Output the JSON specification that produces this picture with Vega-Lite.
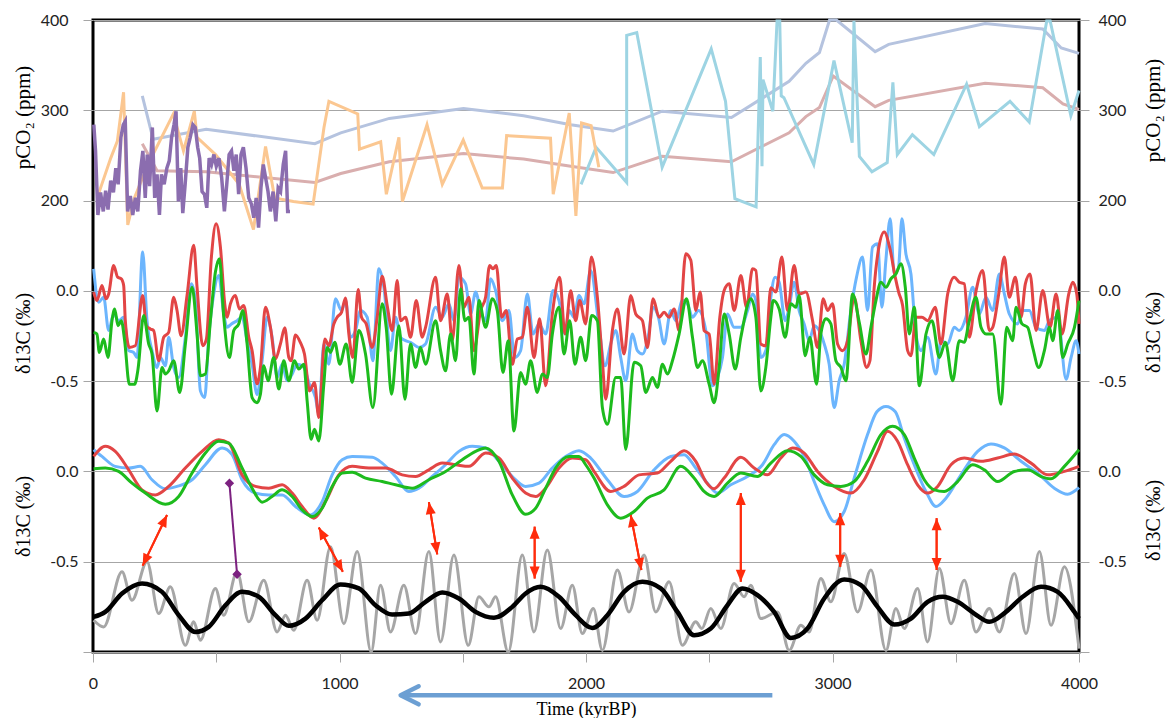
{
"$schema":"https://vega.github.io/schema/vega-lite/v6.json",
"width":986,"height":632,
"autosize":{"type":"none"},
"padding":{"left":93,"top":20,"right":88,"bottom":66},
"background":"white",
"config":{
"view":{"stroke":"#000000","strokeWidth":3},
"axis":{"domain":false,"grid":false,"tickColor":"#a6a6a6","tickSize":10,"tickWidth":1,"labelFont":"Lato","labelFontSize":16,"labelColor":"#222222","titleFont":"Liberation Serif","titleFontSize":20,"titleFontWeight":"normal","titleColor":"#000000","gridColor":"#a6a6a6","gridWidth":1}
},
"datasets":{
"co2":[
{"s":"pk","t":200,"v":263},{"s":"pk","t":260,"v":233},{"s":"pk","t":459,"v":232},{"s":"pk","t":900,"v":220},{"s":"pk","t":1005,"v":230},{"s":"pk","t":1202,"v":243},{"s":"pk","t":1503,"v":252},{"s":"pk","t":1747,"v":246},{"s":"pk","t":1938,"v":238},{"s":"pk","t":2110,"v":231},{"s":"pk","t":2309,"v":249},{"s":"pk","t":2590,"v":243},{"s":"pk","t":2824,"v":275},{"s":"pk","t":2892,"v":293},{"s":"pk","t":2947,"v":303},{"s":"pk","t":3003,"v":338},{"s":"pk","t":3173,"v":304},{"s":"pk","t":3228,"v":311},{"s":"pk","t":3619,"v":330},{"s":"pk","t":3853,"v":325},{"s":"pk","t":3935,"v":307},{"s":"pk","t":4000,"v":301},
{"s":"bg","t":200,"v":316},{"s":"bg","t":244,"v":268},{"s":"bg","t":459,"v":279},{"s":"bg","t":900,"v":263},{"s":"bg","t":1005,"v":275},{"s":"bg","t":1202,"v":291},{"s":"bg","t":1503,"v":302},{"s":"bg","t":1747,"v":294},{"s":"bg","t":1938,"v":284},{"s":"bg","t":2110,"v":277},{"s":"bg","t":2309,"v":299},{"s":"bg","t":2590,"v":292},{"s":"bg","t":2824,"v":332},{"s":"bg","t":2892,"v":352},{"s":"bg","t":2947,"v":364},{"s":"bg","t":2988,"v":400},{"s":"bg","t":3016,"v":400},{"s":"bg","t":3173,"v":365},{"s":"bg","t":3228,"v":373},{"s":"bg","t":3619,"v":396},{"s":"bg","t":3853,"v":390},{"s":"bg","t":3928,"v":369},{"s":"bg","t":4000,"v":363},
{"s":"cy","t":1980,"v":218},{"s":"cy","t":2041,"v":259},{"s":"cy","t":2165,"v":220},{"s":"cy","t":2165,"v":383},{"s":"cy","t":2206,"v":386},{"s":"cy","t":2309,"v":237},{"s":"cy","t":2508,"v":368},{"s":"cy","t":2566,"v":310},{"s":"cy","t":2604,"v":202},{"s":"cy","t":2690,"v":193},{"s":"cy","t":2707,"v":359},{"s":"cy","t":2714,"v":238},{"s":"cy","t":2718,"v":334},{"s":"cy","t":2758,"v":299},{"s":"cy","t":2775,"v":399},{"s":"cy","t":2786,"v":399},{"s":"cy","t":2792,"v":316},{"s":"cy","t":2803,"v":314},{"s":"cy","t":2924,"v":240},{"s":"cy","t":3006,"v":355},{"s":"cy","t":3080,"v":264},{"s":"cy","t":3087,"v":399},{"s":"cy","t":3109,"v":249},{"s":"cy","t":3160,"v":232},{"s":"cy","t":3222,"v":242},{"s":"cy","t":3245,"v":331},{"s":"cy","t":3263,"v":251},{"s":"cy","t":3324,"v":273},{"s":"cy","t":3411,"v":251},{"s":"cy","t":3544,"v":329},{"s":"cy","t":3596,"v":282},{"s":"cy","t":3720,"v":310},{"s":"cy","t":3798,"v":287},{"s":"cy","t":3869,"v":399},{"s":"cy","t":3883,"v":399},{"s":"cy","t":3967,"v":294},{"s":"cy","t":4000,"v":322},
{"s":"or","t":17,"v":203},{"s":"or","t":72,"v":247},{"s":"or","t":99,"v":266},{"s":"or","t":124,"v":320},{"s":"or","t":141,"v":173},{"s":"or","t":168,"v":203},{"s":"or","t":223,"v":240},{"s":"or","t":326,"v":296},{"s":"or","t":367,"v":255},{"s":"or","t":411,"v":299},{"s":"or","t":422,"v":270},{"s":"or","t":497,"v":251},{"s":"or","t":593,"v":218},{"s":"or","t":651,"v":168},{"s":"or","t":700,"v":260},{"s":"or","t":737,"v":203},{"s":"or","t":813,"v":199},{"s":"or","t":893,"v":196},{"s":"or","t":937,"v":281},{"s":"or","t":957,"v":310},{"s":"or","t":1074,"v":296},{"s":"or","t":1081,"v":257},{"s":"or","t":1167,"v":265},{"s":"or","t":1190,"v":207},{"s":"or","t":1241,"v":270},{"s":"or","t":1255,"v":199},{"s":"or","t":1355,"v":284},{"s":"or","t":1417,"v":218},{"s":"or","t":1502,"v":267},{"s":"or","t":1579,"v":214},{"s":"or","t":1661,"v":214},{"s":"or","t":1678,"v":272},{"s":"or","t":1856,"v":269},{"s":"or","t":1867,"v":207},{"s":"or","t":1932,"v":297},{"s":"or","t":1959,"v":183},{"s":"or","t":1982,"v":286},{"s":"or","t":2021,"v":283},{"s":"or","t":2052,"v":237},
{"s":"pu","t":3.3,"v":284},{"s":"pu","t":10.2,"v":255},{"s":"pu","t":19.8,"v":184},{"s":"pu","t":30.7,"v":209},{"s":"pu","t":41.7,"v":188},{"s":"pu","t":51.3,"v":211},{"s":"pu","t":60.9,"v":190},{"s":"pu","t":71.9,"v":222},{"s":"pu","t":82.9,"v":209},{"s":"pu","t":92.5,"v":236},{"s":"pu","t":102.1,"v":218},{"s":"pu","t":113.1,"v":270},{"s":"pu","t":122.7,"v":284},{"s":"pu","t":130.9,"v":288},{"s":"pu","t":140.5,"v":188},{"s":"pu","t":151.5,"v":205},{"s":"pu","t":161.1,"v":184},{"s":"pu","t":172.1,"v":203},{"s":"pu","t":181.7,"v":188},{"s":"pu","t":192.7,"v":233},{"s":"pu","t":202.3,"v":255},{"s":"pu","t":211.9,"v":203},{"s":"pu","t":220.1,"v":251},{"s":"pu","t":229.7,"v":216},{"s":"pu","t":240.7,"v":281},{"s":"pu","t":250.3,"v":203},{"s":"pu","t":259.9,"v":229},{"s":"pu","t":269.5,"v":184},{"s":"pu","t":277.8,"v":229},{"s":"pu","t":288.7,"v":218},{"s":"pu","t":299.7,"v":236},{"s":"pu","t":309.3,"v":244},{"s":"pu","t":318.9,"v":270},{"s":"pu","t":328.5,"v":284},{"s":"pu","t":336.8,"v":299},{"s":"pu","t":346.4,"v":199},{"s":"pu","t":356,"v":236},{"s":"pu","t":364.2,"v":186},{"s":"pu","t":373.8,"v":218},{"s":"pu","t":384.8,"v":259},{"s":"pu","t":394.4,"v":270},{"s":"pu","t":405.4,"v":284},{"s":"pu","t":415,"v":281},{"s":"pu","t":424.6,"v":259},{"s":"pu","t":432.8,"v":247},{"s":"pu","t":442.4,"v":210},{"s":"pu","t":452,"v":207},{"s":"pu","t":461.6,"v":192},{"s":"pu","t":471.2,"v":247},{"s":"pu","t":480.9,"v":240},{"s":"pu","t":490.5,"v":251},{"s":"pu","t":500.1,"v":238},{"s":"pu","t":511.1,"v":247},{"s":"pu","t":522.1,"v":225},{"s":"pu","t":533,"v":188},{"s":"pu","t":542.6,"v":218},{"s":"pu","t":552.2,"v":251},{"s":"pu","t":561.9,"v":255},{"s":"pu","t":571.5,"v":233},{"s":"pu","t":581.1,"v":251},{"s":"pu","t":590.8,"v":207},{"s":"pu","t":600.4,"v":251},{"s":"pu","t":610,"v":259},{"s":"pu","t":620.8,"v":236},{"s":"pu","t":631.8,"v":203},{"s":"pu","t":642.8,"v":196},{"s":"pu","t":652.4,"v":181},{"s":"pu","t":662,"v":203},{"s":"pu","t":671.6,"v":170},{"s":"pu","t":681.2,"v":214},{"s":"pu","t":690.8,"v":240},{"s":"pu","t":700.4,"v":225},{"s":"pu","t":710,"v":210},{"s":"pu","t":719.6,"v":188},{"s":"pu","t":730.6,"v":210},{"s":"pu","t":741.6,"v":177},{"s":"pu","t":751.2,"v":214},{"s":"pu","t":760.8,"v":210},{"s":"pu","t":771.8,"v":240},{"s":"pu","t":781.4,"v":255},{"s":"pu","t":789.7,"v":188},{"s":"pu","t":799.2,"v":188}
],
"up":[
{"s":"b","t":2.6,"v":0.122},{"s":"b","t":22.9,"v":-0.063},{"s":"b","t":43.2,"v":-0.035},{"s":"b","t":63.5,"v":-0.22},{"s":"b","t":83.8,"v":-0.128},{"s":"b","t":104.1,"v":-0.165},{"s":"b","t":124.4,"v":-0.146},{"s":"b","t":144.7,"v":-0.331},{"s":"b","t":165,"v":-0.341},{"s":"b","t":178.6,"v":-0.369},{"s":"b","t":201.5,"v":0.215},{"s":"b","t":219.1,"v":-0.165},{"s":"b","t":239.4,"v":-0.331},{"s":"b","t":259.7,"v":-0.424},{"s":"b","t":273.3,"v":-0.369},{"s":"b","t":293.6,"v":-0.415},{"s":"b","t":307.1,"v":-0.257},{"s":"b","t":327.4,"v":-0.424},{"s":"b","t":347.7,"v":-0.48},{"s":"b","t":374.8,"v":-0.257},{"s":"b","t":399.1,"v":0.039},{"s":"b","t":415.4,"v":-0.054},{"s":"b","t":435.7,"v":-0.554},{"s":"b","t":453.3,"v":-0.591},{"s":"b","t":469.5,"v":-0.257},{"s":"b","t":489.8,"v":-0.017},{"s":"b","t":510.1,"v":0.085},{"s":"b","t":530.4,"v":-0.128},{"s":"b","t":543.9,"v":-0.202},{"s":"b","t":561.5,"v":-0.183},{"s":"b","t":584.5,"v":-0.165},{"s":"b","t":604.8,"v":-0.146},{"s":"b","t":625.1,"v":-0.276},{"s":"b","t":645.4,"v":-0.407},{"s":"b","t":665.7,"v":-0.574},{"s":"b","t":686,"v":-0.387},{"s":"b","t":706.3,"v":-0.146},{"s":"b","t":726.6,"v":-0.257},{"s":"b","t":746.9,"v":-0.48},{"s":"b","t":767.2,"v":-0.407},{"s":"b","t":787.5,"v":-0.498},{"s":"b","t":807.8,"v":-0.461},{"s":"b","t":828.1,"v":-0.407},{"s":"b","t":855.2,"v":-0.424},{"s":"b","t":878.2,"v":-0.517},{"s":"b","t":902.6,"v":-0.591},{"s":"b","t":916.1,"v":-0.683},{"s":"b","t":936.4,"v":-0.294},{"s":"b","t":956.7,"v":-0.406},{"s":"b","t":983.8,"v":-0.044},{"s":"b","t":1008.1,"v":-0.109},{"s":"b","t":1024.3,"v":-0.054},{"s":"b","t":1044.6,"v":-0.257},{"s":"b","t":1064.9,"v":-0.22},{"s":"b","t":1085.2,"v":-0.109},{"s":"b","t":1112.3,"v":-0.146},{"s":"b","t":1135.3,"v":-0.387},{"s":"b","t":1159.7,"v":0.122},{"s":"b","t":1180,"v":0.02},{"s":"b","t":1207,"v":-0.331},{"s":"b","t":1227.3,"v":-0.146},{"s":"b","t":1247.6,"v":-0.257},{"s":"b","t":1268,"v":-0.276},{"s":"b","t":1288.2,"v":-0.285},{"s":"b","t":1322,"v":-0.313},{"s":"b","t":1349.1,"v":-0.294},
{"s":"b","t":1389.7,"v":-0.091},{"s":"b","t":1416.7,"v":-0.146},{"s":"b","t":1443.8,"v":-0.072},{"s":"b","t":1464.1,"v":-0.165},{"s":"b","t":1484.4,"v":0.076},{"s":"b","t":1511.5,"v":0.039},{"s":"b","t":1531.8,"v":-0.128},{"s":"b","t":1552.1,"v":-0.007},{"s":"b","t":1572.4,"v":-0.109},{"s":"b","t":1592.7,"v":-0.165},{"s":"b","t":1613,"v":0.067},{"s":"b","t":1633.3,"v":0.002},{"s":"b","t":1660.4,"v":-0.165},{"s":"b","t":1687.4,"v":-0.109},{"s":"b","t":1710.4,"v":-0.369},{"s":"b","t":1734.8,"v":-0.331},{"s":"b","t":1762,"v":-0.017},{"s":"b","t":1785,"v":-0.239},{"s":"b","t":1809.4,"v":-0.183},{"s":"b","t":1836.3,"v":-0.239},{"s":"b","t":1866.2,"v":0.002},{"s":"b","t":1890.5,"v":-0.054},{"s":"b","t":1914.8,"v":-0.239},{"s":"b","t":1931.1,"v":-0.109},{"s":"b","t":1951.4,"v":-0.146},{"s":"b","t":1971.7,"v":-0.026},{"s":"b","t":1992,"v":-0.072},{"s":"b","t":2019,"v":0.113},{"s":"b","t":2050.2,"v":-0.165},{"s":"b","t":2077.3,"v":-0.415},{"s":"b","t":2100.2,"v":-0.294},{"s":"b","t":2120.5,"v":-0.22},{"s":"b","t":2140.8,"v":-0.369},{"s":"b","t":2161.1,"v":-0.498},{"s":"b","t":2188.2,"v":-0.239},{"s":"b","t":2208.5,"v":-0.331},{"s":"b","t":2228.9,"v":-0.35},{"s":"b","t":2251.9,"v":-0.257},{"s":"b","t":2272.2,"v":-0.091},{"s":"b","t":2293.8,"v":-0.146},{"s":"b","t":2316.9,"v":-0.294},{"s":"b","t":2344,"v":-0.109},{"s":"b","t":2364.2,"v":-0.165},{"s":"b","t":2391.3,"v":-0.054},{"s":"b","t":2411.6,"v":-0.072},{"s":"b","t":2431.9,"v":-0.146},{"s":"b","t":2456.3,"v":-0.109},{"s":"b","t":2486,"v":-0.22},{"s":"b","t":2513.1,"v":-0.526},{"s":"b","t":2533.4,"v":-0.48},{"s":"b","t":2553.7,"v":-0.369},{"s":"b","t":2574,"v":-0.128},{"s":"b","t":2601.1,"v":-0.202},{"s":"b","t":2628.2,"v":-0.202},{"s":"b","t":2655.3,"v":-0.109},{"s":"b","t":2675.6,"v":-0.017},{"s":"b","t":2689.1,"v":-0.054},
{"s":"b","t":2709.2,"v":-0.369},{"s":"b","t":2729.5,"v":-0.331},{"s":"b","t":2749.8,"v":-0.035},{"s":"b","t":2767.4,"v":0.076},{"s":"b","t":2783.7,"v":0.048},{"s":"b","t":2808,"v":-0.165},{"s":"b","t":2824.3,"v":-0.091},{"s":"b","t":2844.4,"v":0.048},{"s":"b","t":2864.7,"v":-0.109},{"s":"b","t":2885,"v":-0.183},{"s":"b","t":2905.4,"v":-0.276},{"s":"b","t":2925.7,"v":-0.193},{"s":"b","t":2946,"v":-0.22},{"s":"b","t":2966.3,"v":-0.294},{"s":"b","t":2986.6,"v":-0.406},{"s":"b","t":3006.9,"v":-0.646},{"s":"b","t":3027.2,"v":-0.498},{"s":"b","t":3047.5,"v":-0.406},{"s":"b","t":3074.5,"v":-0.109},{"s":"b","t":3097.5,"v":0.076},{"s":"b","t":3121.8,"v":0.187},{"s":"b","t":3142.2,"v":-0.109},{"s":"b","t":3162.5,"v":0.243},{"s":"b","t":3182.8,"v":0.261},{"s":"b","t":3200.3,"v":-0.091},{"s":"b","t":3216.5,"v":0.169},{"s":"b","t":3234.1,"v":0.4},{"s":"b","t":3250.4,"v":0.094},{"s":"b","t":3268,"v":0.131},{"s":"b","t":3281.5,"v":0.4},{"s":"b","t":3297.7,"v":0.206},{"s":"b","t":3318.2,"v":0.094},{"s":"b","t":3338.5,"v":-0.239},{"s":"b","t":3358.8,"v":-0.331},{"s":"b","t":3386,"v":-0.257},{"s":"b","t":3419.6,"v":-0.461},{"s":"b","t":3440,"v":-0.276},{"s":"b","t":3467.2,"v":-0.294},{"s":"b","t":3494.1,"v":-0.202},{"s":"b","t":3514.4,"v":-0.22},{"s":"b","t":3541.4,"v":-0.146},{"s":"b","t":3568.5,"v":0.02},{"s":"b","t":3595.6,"v":-0.128},{"s":"b","t":3622.7,"v":-0.035},{"s":"b","t":3649.7,"v":-0.109},{"s":"b","t":3676.8,"v":0.094},{"s":"b","t":3697.2,"v":-0.017},{"s":"b","t":3717.3,"v":-0.128},{"s":"b","t":3751.3,"v":-0.183},{"s":"b","t":3771.6,"v":-0.109},{"s":"b","t":3798.7,"v":-0.109},{"s":"b","t":3825.7,"v":-0.202},{"s":"b","t":3859.6,"v":-0.22},{"s":"b","t":3879.9,"v":-0.165},{"s":"b","t":3913.8,"v":-0.146},{"s":"b","t":3947.6,"v":-0.489},{"s":"b","t":3968,"v":-0.369},{"s":"b","t":3988.3,"v":-0.276},{"s":"b","t":4000,"v":-0.35},
{"s":"r","t":2.6,"v":-0.007},{"s":"r","t":16.1,"v":-0.054},{"s":"r","t":36.4,"v":0.03},{"s":"r","t":52.6,"v":-0.044},{"s":"r","t":63.5,"v":-0.017},{"s":"r","t":83.8,"v":0.141},{"s":"r","t":100,"v":0.076},{"s":"r","t":114.9,"v":0.067},{"s":"r","t":124.4,"v":0.03},{"s":"r","t":131.1,"v":-0.165},{"s":"r","t":147.4,"v":-0.313},{"s":"r","t":171.7,"v":-0.304},{"s":"r","t":201.5,"v":-0.026},{"s":"r","t":216.4,"v":-0.193},{"s":"r","t":232.6,"v":-0.211},{"s":"r","t":246.2,"v":-0.22},{"s":"r","t":266.5,"v":-0.387},{"s":"r","t":286.8,"v":-0.257},{"s":"r","t":307.1,"v":-0.23},{"s":"r","t":327.4,"v":-0.035},{"s":"r","t":340.9,"v":-0.109},{"s":"r","t":357.2,"v":-0.248},{"s":"r","t":381.5,"v":-0.026},{"s":"r","t":408.6,"v":0.252},{"s":"r","t":422.1,"v":0.02},{"s":"r","t":445.1,"v":-0.304},{"s":"r","t":460,"v":-0.267},{"s":"r","t":480.3,"v":0.187},{"s":"r","t":499.3,"v":0.372},{"s":"r","t":516.8,"v":0.243},{"s":"r","t":534.4,"v":-0.072},{"s":"r","t":543.9,"v":-0.146},{"s":"r","t":557.4,"v":-0.072},{"s":"r","t":577.7,"v":-0.026},{"s":"r","t":594,"v":-0.1},{"s":"r","t":611.6,"v":-0.081},{"s":"r","t":631.9,"v":-0.257},{"s":"r","t":645.4,"v":-0.331},{"s":"r","t":665.7,"v":-0.515},{"s":"r","t":679.2,"v":-0.424},{"s":"r","t":699.5,"v":-0.091},{"s":"r","t":719.8,"v":-0.202},{"s":"r","t":740.1,"v":-0.378},{"s":"r","t":760.4,"v":-0.294},{"s":"r","t":778,"v":-0.205},{"s":"r","t":794.3,"v":-0.369},{"s":"r","t":803.7,"v":-0.387},{"s":"r","t":821.3,"v":-0.244},{"s":"r","t":841.6,"v":-0.287},{"s":"r","t":857.9,"v":-0.35},{"s":"r","t":878.2,"v":-0.554},{"s":"r","t":898.5,"v":-0.507},{"s":"r","t":916.1,"v":-0.702},{"s":"r","t":940.4,"v":-0.267},{"s":"r","t":956.7,"v":-0.304},{"s":"r","t":977,"v":-0.183},{"s":"r","t":990.5,"v":-0.146},{"s":"r","t":1008.1,"v":-0.119},{"s":"r","t":1024.3,"v":-0.039},{"s":"r","t":1037.9,"v":-0.239},{"s":"r","t":1054.1,"v":-0.369},{"s":"r","t":1075.8,"v":0.007},{"s":"r","t":1089.3,"v":-0.146},{"s":"r","t":1108.3,"v":-0.183},{"s":"r","t":1132.6,"v":-0.313},{"s":"r","t":1152.9,"v":-0.146},{"s":"r","t":1173.2,"v":0.081},{"s":"r","t":1193.5,"v":-0.081},{"s":"r","t":1213.8,"v":-0.22},{"s":"r","t":1234.1,"v":0.057},{"s":"r","t":1247.6,"v":-0.165},{"s":"r","t":1268,"v":-0.146},{"s":"r","t":1288.2,"v":-0.257},{"s":"r","t":1311.3,"v":-0.054},{"s":"r","t":1335.6,"v":-0.257},{"s":"r","t":1349.1,"v":-0.202},
{"s":"r","t":1389.7,"v":0.076},{"s":"r","t":1410,"v":-0.165},{"s":"r","t":1437.3,"v":-0.017},{"s":"r","t":1457.5,"v":-0.276},{"s":"r","t":1484.4,"v":0.141},{"s":"r","t":1504.7,"v":-0.091},{"s":"r","t":1525,"v":-0.035},{"s":"r","t":1545.3,"v":-0.331},{"s":"r","t":1572.4,"v":-0.109},{"s":"r","t":1592.7,"v":-0.035},{"s":"r","t":1609,"v":0.141},{"s":"r","t":1622.5,"v":0.122},{"s":"r","t":1636,"v":0.141},{"s":"r","t":1657.7,"v":-0.146},{"s":"r","t":1676.6,"v":-0.109},{"s":"r","t":1701,"v":-0.407},{"s":"r","t":1721.4,"v":-0.267},{"s":"r","t":1741.7,"v":-0.257},{"s":"r","t":1762,"v":-0.091},{"s":"r","t":1789,"v":-0.369},{"s":"r","t":1812,"v":-0.155},{"s":"r","t":1836.3,"v":-0.526},{"s":"r","t":1863.5,"v":-0.128},{"s":"r","t":1893.2,"v":0.076},{"s":"r","t":1914.8,"v":-0.239},{"s":"r","t":1937.8,"v":0},{"s":"r","t":1958.1,"v":-0.165},{"s":"r","t":1974.4,"v":-0.054},{"s":"r","t":1998.7,"v":-0.183},{"s":"r","t":2021.7,"v":0.187},{"s":"r","t":2046.1,"v":-0.035},{"s":"r","t":2066.4,"v":-0.387},{"s":"r","t":2080,"v":-0.6},{"s":"r","t":2107,"v":-0.22},{"s":"r","t":2127.3,"v":-0.1},{"s":"r","t":2154.4,"v":-0.35},{"s":"r","t":2181.5,"v":-0.026},{"s":"r","t":2201.8,"v":-0.128},{"s":"r","t":2228.9,"v":-0.165},{"s":"r","t":2249.2,"v":-0.313},{"s":"r","t":2272.2,"v":-0.044},{"s":"r","t":2296.6,"v":-0.146},{"s":"r","t":2316.9,"v":-0.119},{"s":"r","t":2337.2,"v":-0.146},{"s":"r","t":2357.5,"v":-0.1},{"s":"r","t":2377.8,"v":-0.22},{"s":"r","t":2404.9,"v":0.206},{"s":"r","t":2425.2,"v":0.169},{"s":"r","t":2445.5,"v":-0.109},{"s":"r","t":2463.1,"v":-0.007},{"s":"r","t":2479.3,"v":-0.22},{"s":"r","t":2499.6,"v":-0.239},{"s":"r","t":2519.9,"v":-0.517},{"s":"r","t":2542.9,"v":-0.146},{"s":"r","t":2560.5,"v":0.002},{"s":"r","t":2580.8,"v":0.039},{"s":"r","t":2601.1,"v":-0.109},{"s":"r","t":2628.2,"v":0.085},{"s":"r","t":2651.2,"v":-0.091},{"s":"r","t":2675.6,"v":0.122},{"s":"r","t":2689.1,"v":0.113},
{"s":"r","t":2709.2,"v":-0.294},{"s":"r","t":2729.5,"v":-0.304},{"s":"r","t":2749.8,"v":0.017},{"s":"r","t":2770.1,"v":-0.007},{"s":"r","t":2794.5,"v":0.187},{"s":"r","t":2817.4,"v":-0.109},{"s":"r","t":2844.4,"v":0.141},{"s":"r","t":2864.7,"v":-0.017},{"s":"r","t":2891.9,"v":-0.007},{"s":"r","t":2919.1,"v":-0.165},{"s":"r","t":2939.4,"v":-0.313},{"s":"r","t":2962.2,"v":-0.044},{"s":"r","t":2980,"v":-0.109},{"s":"r","t":3000.3,"v":-0.072},{"s":"r","t":3020.6,"v":-0.294},{"s":"r","t":3040.9,"v":-0.331},{"s":"r","t":3061.2,"v":-0.276},{"s":"r","t":3088.1,"v":-0.035},{"s":"r","t":3115.2,"v":-0.276},{"s":"r","t":3138.4,"v":-0.424},{"s":"r","t":3151.8,"v":-0.387},{"s":"r","t":3169.2,"v":0.02},{"s":"r","t":3187.1,"v":0.234},{"s":"r","t":3209.8,"v":0.326},{"s":"r","t":3233,"v":0.234},{"s":"r","t":3254.5,"v":0.076},{"s":"r","t":3268.3,"v":-0.007},{"s":"r","t":3284.5,"v":-0.081},{"s":"r","t":3304.8,"v":-0.331},{"s":"r","t":3318.2,"v":-0.359},{"s":"r","t":3338.5,"v":-0.146},{"s":"r","t":3362.9,"v":-0.146},{"s":"r","t":3386,"v":-0.165},{"s":"r","t":3416.9,"v":-0.091},{"s":"r","t":3440,"v":-0.294},{"s":"r","t":3467.2,"v":-0.017},{"s":"r","t":3494.1,"v":0.076},{"s":"r","t":3514.4,"v":0.048},{"s":"r","t":3534.6,"v":0.039},{"s":"r","t":3554.9,"v":-0.257},{"s":"r","t":3582.1,"v":-0.002},{"s":"r","t":3609.3,"v":0.113},{"s":"r","t":3636.1,"v":-0.22},{"s":"r","t":3650,"v":-0.202},{"s":"r","t":3674.3,"v":-0.017},{"s":"r","t":3697.2,"v":0.187},{"s":"r","t":3717.3,"v":-0.035},{"s":"r","t":3741.7,"v":0.076},{"s":"r","t":3764.8,"v":-0.146},{"s":"r","t":3782.3,"v":0.039},{"s":"r","t":3801.4,"v":0.094},{"s":"r","t":3825.7,"v":-0.22},{"s":"r","t":3852.9,"v":0.002},{"s":"r","t":3882.6,"v":-0.202},{"s":"r","t":3906.9,"v":-0.017},{"s":"r","t":3931.3,"v":-0.239},{"s":"r","t":3958.5,"v":-0.017},{"s":"r","t":3974.7,"v":0.048},{"s":"r","t":3990.9,"v":-0.017},{"s":"r","t":4000,"v":-0.183},
{"s":"g","t":2.6,"v":-0.23},{"s":"g","t":16.1,"v":-0.239},{"s":"g","t":25.6,"v":-0.341},{"s":"g","t":43.2,"v":-0.267},{"s":"g","t":60.8,"v":-0.369},{"s":"g","t":77,"v":-0.165},{"s":"g","t":87.9,"v":-0.1},{"s":"g","t":101.4,"v":-0.193},{"s":"g","t":114.9,"v":-0.165},{"s":"g","t":128.4,"v":-0.276},{"s":"g","t":147.4,"v":-0.517},{"s":"g","t":169,"v":-0.517},{"s":"g","t":182.7,"v":-0.433},{"s":"g","t":205.6,"v":-0.137},{"s":"g","t":225.9,"v":-0.294},{"s":"g","t":239.4,"v":-0.35},{"s":"g","t":259.7,"v":-0.665},{"s":"g","t":280,"v":-0.424},{"s":"g","t":293.6,"v":-0.461},{"s":"g","t":307.1,"v":-0.443},{"s":"g","t":327.4,"v":-0.387},{"s":"g","t":351.8,"v":-0.563},{"s":"g","t":374.8,"v":-0.294},{"s":"g","t":401.9,"v":0.02},{"s":"g","t":422.1,"v":-0.239},{"s":"g","t":435.7,"v":-0.47},{"s":"g","t":456,"v":-0.461},{"s":"g","t":476.3,"v":-0.165},{"s":"g","t":496.6,"v":0.104},{"s":"g","t":512.8,"v":0.178},{"s":"g","t":530.4,"v":-0.146},{"s":"g","t":553.4,"v":-0.369},{"s":"g","t":571,"v":-0.22},{"s":"g","t":591.3,"v":-0.183},{"s":"g","t":607.5,"v":-0.109},{"s":"g","t":625.1,"v":-0.294},{"s":"g","t":645.4,"v":-0.591},{"s":"g","t":665.7,"v":-0.619},{"s":"g","t":679.2,"v":-0.572},{"s":"g","t":692.7,"v":-0.415},{"s":"g","t":710.3,"v":-0.498},{"s":"g","t":733.3,"v":-0.369},{"s":"g","t":753.6,"v":-0.544},{"s":"g","t":773.9,"v":-0.387},{"s":"g","t":794.3,"v":-0.498},{"s":"g","t":817.3,"v":-0.387},{"s":"g","t":834.9,"v":-0.433},{"s":"g","t":855.2,"v":-0.406},{"s":"g","t":868.7,"v":-0.609},{"s":"g","t":884.9,"v":-0.822},{"s":"g","t":898.5,"v":-0.767},{"s":"g","t":916.1,"v":-0.831},{"s":"g","t":936.4,"v":-0.517},{"s":"g","t":949.9,"v":-0.313},{"s":"g","t":963.4,"v":-0.341},{"s":"g","t":981,"v":-0.285},{"s":"g","t":1001.3,"v":-0.406},{"s":"g","t":1027,"v":-0.294},{"s":"g","t":1051.4,"v":-0.507},{"s":"g","t":1078.5,"v":-0.22},{"s":"g","t":1105.5,"v":-0.35},{"s":"g","t":1135.3,"v":-0.646},{"s":"g","t":1173.2,"v":-0.072},{"s":"g","t":1189.4,"v":-0.202},{"s":"g","t":1211.1,"v":-0.572},{"s":"g","t":1240.9,"v":-0.193},{"s":"g","t":1265.3,"v":-0.6},{"s":"g","t":1288.2,"v":-0.294},{"s":"g","t":1308.5,"v":-0.424},{"s":"g","t":1328.8,"v":-0.313},{"s":"g","t":1349.1,"v":-0.406},
{"s":"g","t":1389.7,"v":-0.165},{"s":"g","t":1410,"v":-0.331},{"s":"g","t":1430.3,"v":-0.443},{"s":"g","t":1450.6,"v":-0.239},{"s":"g","t":1470.9,"v":-0.387},{"s":"g","t":1491.2,"v":0.011},{"s":"g","t":1508.8,"v":-0.165},{"s":"g","t":1525,"v":-0.146},{"s":"g","t":1545.3,"v":-0.461},{"s":"g","t":1565.6,"v":-0.054},{"s":"g","t":1592.7,"v":-0.202},{"s":"g","t":1619.8,"v":-0.044},{"s":"g","t":1640,"v":-0.109},{"s":"g","t":1663,"v":-0.452},{"s":"g","t":1684.7,"v":-0.276},{"s":"g","t":1707.7,"v":-0.776},{"s":"g","t":1734.8,"v":-0.452},{"s":"g","t":1755,"v":-0.517},{"s":"g","t":1775.3,"v":-0.387},{"s":"g","t":1802.4,"v":-0.563},{"s":"g","t":1822.7,"v":-0.461},{"s":"g","t":1843,"v":-0.48},{"s":"g","t":1863.5,"v":-0.239},{"s":"g","t":1890.5,"v":-0.091},{"s":"g","t":1910.8,"v":-0.35},{"s":"g","t":1933.7,"v":-0.165},{"s":"g","t":1955.4,"v":-0.406},{"s":"g","t":1978.3,"v":-0.257},{"s":"g","t":1998.7,"v":-0.387},{"s":"g","t":2023,"v":-0.137},{"s":"g","t":2046.1,"v":-0.165},{"s":"g","t":2066.4,"v":-0.646},{"s":"g","t":2086.7,"v":-0.739},{"s":"g","t":2120.5,"v":-0.48},{"s":"g","t":2140.8,"v":-0.48},{"s":"g","t":2161.1,"v":-0.878},{"s":"g","t":2195,"v":-0.396},{"s":"g","t":2222.1,"v":-0.415},{"s":"g","t":2242.4,"v":-0.563},{"s":"g","t":2269.5,"v":-0.48},{"s":"g","t":2289.8,"v":-0.535},{"s":"g","t":2310.1,"v":-0.406},{"s":"g","t":2330.4,"v":-0.461},{"s":"g","t":2350.7,"v":-0.387},{"s":"g","t":2377.8,"v":-0.239},{"s":"g","t":2407.6,"v":-0.044},{"s":"g","t":2431.9,"v":-0.257},{"s":"g","t":2452.2,"v":-0.424},{"s":"g","t":2472.5,"v":-0.387},{"s":"g","t":2499.6,"v":-0.517},{"s":"g","t":2519.9,"v":-0.619},{"s":"g","t":2540.2,"v":-0.424},{"s":"g","t":2560.5,"v":-0.128},{"s":"g","t":2580.8,"v":-0.239},{"s":"g","t":2605.2,"v":-0.433},{"s":"g","t":2628.2,"v":-0.257},{"s":"g","t":2668.8,"v":-0.044},{"s":"g","t":2689.1,"v":-0.146},
{"s":"g","t":2709.2,"v":-0.554},{"s":"g","t":2729.5,"v":-0.424},{"s":"g","t":2749.8,"v":-0.146},{"s":"g","t":2759.3,"v":-0.054},{"s":"g","t":2783.7,"v":-0.1},{"s":"g","t":2808,"v":-0.257},{"s":"g","t":2831.1,"v":-0.072},{"s":"g","t":2851.4,"v":-0.091},{"s":"g","t":2864.7,"v":-0.026},{"s":"g","t":2889.2,"v":-0.359},{"s":"g","t":2908.2,"v":-0.257},{"s":"g","t":2935.3,"v":-0.517},{"s":"g","t":2952.8,"v":-0.239},{"s":"g","t":2973.1,"v":-0.155},{"s":"g","t":2993.5,"v":-0.183},{"s":"g","t":3013.8,"v":-0.387},{"s":"g","t":3034.1,"v":-0.424},{"s":"g","t":3054.4,"v":-0.498},{"s":"g","t":3081.5,"v":-0.017},{"s":"g","t":3108.5,"v":-0.174},{"s":"g","t":3135.6,"v":-0.35},{"s":"g","t":3155.9,"v":-0.202},{"s":"g","t":3176.2,"v":-0.054},{"s":"g","t":3196.5,"v":0.048},{"s":"g","t":3216.8,"v":0.02},{"s":"g","t":3237.1,"v":0.067},{"s":"g","t":3257.4,"v":0.094},{"s":"g","t":3277.7,"v":0.15},{"s":"g","t":3295.3,"v":0.02},{"s":"g","t":3311.6,"v":-0.239},{"s":"g","t":3331.9,"v":-0.091},{"s":"g","t":3352.2,"v":-0.526},{"s":"g","t":3379.3,"v":-0.239},{"s":"g","t":3403.6,"v":-0.165},{"s":"g","t":3433.4,"v":-0.369},{"s":"g","t":3457.8,"v":-0.285},{"s":"g","t":3487.6,"v":-0.498},{"s":"g","t":3514.4,"v":-0.276},{"s":"g","t":3534.6,"v":-0.285},{"s":"g","t":3552.3,"v":-0.183},{"s":"g","t":3582.1,"v":-0.035},{"s":"g","t":3602.4,"v":-0.202},{"s":"g","t":3622.7,"v":-0.239},{"s":"g","t":3649.7,"v":-0.239},{"s":"g","t":3683.6,"v":-0.628},{"s":"g","t":3706.6,"v":-0.202},{"s":"g","t":3730.9,"v":-0.276},{"s":"g","t":3744.5,"v":-0.091},{"s":"g","t":3768.8,"v":-0.183},{"s":"g","t":3791.8,"v":-0.202},{"s":"g","t":3812.1,"v":-0.313},{"s":"g","t":3836.5,"v":-0.424},{"s":"g","t":3859.6,"v":-0.331},{"s":"g","t":3879.9,"v":-0.202},{"s":"g","t":3893.4,"v":-0.276},{"s":"g","t":3913.8,"v":-0.109},{"s":"g","t":3934,"v":-0.369},{"s":"g","t":3954.3,"v":-0.294},{"s":"g","t":3981.5,"v":-0.202},{"s":"g","t":4000,"v":-0.054}
],
"low":[
{"s":"b","t":2.6,"v":0.12},{"s":"b","t":36.4,"v":0.083},{"s":"b","t":90.5,"v":0.028},{"s":"b","t":144.7,"v":0.019},{"s":"b","t":192,"v":0.028},{"s":"b","t":239.4,"v":-0.046},{"s":"b","t":293.5,"v":-0.096},{"s":"b","t":340.9,"v":-0.083},{"s":"b","t":401.8,"v":-0.046},{"s":"b","t":455.9,"v":0.037},{"s":"b","t":523.6,"v":0.13},{"s":"b","t":564.2,"v":0.093},{"s":"b","t":604.8,"v":-0.046},{"s":"b","t":658.9,"v":-0.12},{"s":"b","t":713.1,"v":-0.13},{"s":"b","t":767.2,"v":-0.13},{"s":"b","t":821.3,"v":-0.194},{"s":"b","t":882.2,"v":-0.241},{"s":"b","t":929.6,"v":-0.167},{"s":"b","t":970.2,"v":-0.019},{"s":"b","t":1010.8,"v":0.065},{"s":"b","t":1051.4,"v":0.083},{"s":"b","t":1132.6,"v":0.078},{"s":"b","t":1173.2,"v":0.046},{"s":"b","t":1227.3,"v":-0.028},{"s":"b","t":1281.4,"v":-0.111},{"s":"b","t":1322,"v":-0.093},{"s":"b","t":1376.2,"v":-0.028},{"s":"b","t":1430.3,"v":0.037},{"s":"b","t":1484.4,"v":0.111},{"s":"b","t":1538.6,"v":0.139},{"s":"b","t":1592.7,"v":0.13},{"s":"b","t":1646.8,"v":0.056},{"s":"b","t":1701,"v":-0.028},{"s":"b","t":1755.1,"v":-0.083},{"s":"b","t":1809.2,"v":-0.065},{"s":"b","t":1863.4,"v":0.019},{"s":"b","t":1917.5,"v":0.083},{"s":"b","t":1971.6,"v":0.115},{"s":"b","t":2019,"v":0.074},{"s":"b","t":2086.7,"v":-0.046},{"s":"b","t":2154.3,"v":-0.139},{"s":"b","t":2208.5,"v":-0.111},{"s":"b","t":2276.1,"v":0.009},{"s":"b","t":2343.8,"v":0.083},{"s":"b","t":2397.9,"v":0.093},{"s":"b","t":2445.3,"v":0.019},{"s":"b","t":2492.7,"v":-0.065},{"s":"b","t":2533.3,"v":-0.12},{"s":"b","t":2587.4,"v":-0.074},{"s":"b","t":2655.1,"v":-0.028},{"s":"b","t":2716,"v":0.037},{"s":"b","t":2763.3,"v":0.148},{"s":"b","t":2803.9,"v":0.204},{"s":"b","t":2844.5,"v":0.167},{"s":"b","t":2885.1,"v":0.083},{"s":"b","t":2925.7,"v":-0.056},{"s":"b","t":2966.3,"v":-0.185},{"s":"b","t":3006.9,"v":-0.278},{"s":"b","t":3047.5,"v":-0.222},{"s":"b","t":3088,"v":-0.037},{"s":"b","t":3142.2,"v":0.204},{"s":"b","t":3180,"v":0.33},{"s":"b","t":3217,"v":0.36},{"s":"b","t":3255,"v":0.33},{"s":"b","t":3291.1,"v":0.185},{"s":"b","t":3331.7,"v":0.037},{"s":"b","t":3379,"v":-0.111},{"s":"b","t":3419.7,"v":-0.194},{"s":"b","t":3460.3,"v":-0.148},{"s":"b","t":3521.2,"v":-0.019},{"s":"b","t":3588.8,"v":0.111},{"s":"b","t":3643,"v":0.152},{"s":"b","t":3697.1,"v":0.13},{"s":"b","t":3764.8,"v":0.056},{"s":"b","t":3832.4,"v":-0.009},{"s":"b","t":3900.1,"v":-0.093},{"s":"b","t":3954.2,"v":-0.126},{"s":"b","t":4000,"v":-0.09},
{"s":"r","t":2.6,"v":0.083},{"s":"r","t":49.9,"v":0.139},{"s":"r","t":90.5,"v":0.111},{"s":"r","t":144.7,"v":0.009},{"s":"r","t":198.8,"v":-0.102},{"s":"r","t":252.9,"v":-0.13},{"s":"r","t":307.1,"v":-0.083},{"s":"r","t":374.7,"v":0.019},{"s":"r","t":442.4,"v":0.111},{"s":"r","t":510.1,"v":0.176},{"s":"r","t":550.7,"v":0.157},{"s":"r","t":604.8,"v":-0.019},{"s":"r","t":658.9,"v":-0.083},{"s":"r","t":713.1,"v":-0.093},{"s":"r","t":767.2,"v":-0.074},{"s":"r","t":807.8,"v":-0.12},{"s":"r","t":848.4,"v":-0.194},{"s":"r","t":895.8,"v":-0.259},{"s":"r","t":943.1,"v":-0.167},{"s":"r","t":997.3,"v":-0.019},{"s":"r","t":1051.4,"v":0.028},{"s":"r","t":1119.1,"v":0.019},{"s":"r","t":1186.7,"v":0.019},{"s":"r","t":1254.4,"v":-0.019},{"s":"r","t":1308.5,"v":-0.028},{"s":"r","t":1362.6,"v":0.009},{"s":"r","t":1416.8,"v":0.046},{"s":"r","t":1470.9,"v":0.037},{"s":"r","t":1525,"v":0.028},{"s":"r","t":1592.7,"v":0.102},{"s":"r","t":1646.8,"v":0.074},{"s":"r","t":1701,"v":-0.037},{"s":"r","t":1755.1,"v":-0.12},{"s":"r","t":1795.7,"v":-0.139},{"s":"r","t":1836.3,"v":-0.093},{"s":"r","t":1890.4,"v":0.019},{"s":"r","t":1944.5,"v":0.074},{"s":"r","t":1998.7,"v":0.065},{"s":"r","t":2032.5,"v":0},{"s":"r","t":2100.2,"v":-0.111},{"s":"r","t":2154.3,"v":-0.083},{"s":"r","t":2215.2,"v":-0.019},{"s":"r","t":2289.7,"v":-0.009},{"s":"r","t":2343.8,"v":0.056},{"s":"r","t":2397.9,"v":0.115},{"s":"r","t":2445.3,"v":0.056},{"s":"r","t":2485.9,"v":-0.056},{"s":"r","t":2519.7,"v":-0.096},{"s":"r","t":2560.3,"v":-0.037},{"s":"r","t":2628,"v":0.078},{"s":"r","t":2682.1,"v":0.019},{"s":"r","t":2736.2,"v":-0.019},{"s":"r","t":2790.4,"v":0.074},{"s":"r","t":2837.8,"v":0.13},{"s":"r","t":2885.1,"v":0.102},{"s":"r","t":2939.3,"v":0},{"s":"r","t":3007,"v":-0.083},{"s":"r","t":3074.6,"v":-0.12},{"s":"r","t":3128.7,"v":-0.046},{"s":"r","t":3182.8,"v":0.111},{"s":"r","t":3223.4,"v":0.222},{"s":"r","t":3264,"v":0.167},{"s":"r","t":3304.6,"v":0.037},{"s":"r","t":3345.2,"v":-0.074},{"s":"r","t":3386,"v":-0.12},{"s":"r","t":3426.4,"v":-0.083},{"s":"r","t":3480.6,"v":0.037},{"s":"r","t":3534.7,"v":0.074},{"s":"r","t":3602.4,"v":0.056},{"s":"r","t":3670,"v":0.074},{"s":"r","t":3737.7,"v":0.096},{"s":"r","t":3805.4,"v":0.046},{"s":"r","t":3873,"v":-0.019},{"s":"r","t":3940.7,"v":0},{"s":"r","t":4000,"v":0.028},
{"s":"g","t":2.6,"v":0.015},{"s":"g","t":49.9,"v":0.019},{"s":"g","t":104.1,"v":0},{"s":"g","t":158.2,"v":-0.065},{"s":"g","t":212.3,"v":-0.12},{"s":"g","t":293.5,"v":-0.182},{"s":"g","t":347.7,"v":-0.139},{"s":"g","t":401.8,"v":-0.009},{"s":"g","t":455.9,"v":0.102},{"s":"g","t":510.1,"v":0.167},{"s":"g","t":550.7,"v":0.157},{"s":"g","t":604.8,"v":0.019},{"s":"g","t":645.4,"v":-0.093},{"s":"g","t":686,"v":-0.17},{"s":"g","t":726.6,"v":-0.139},{"s":"g","t":767.2,"v":-0.102},{"s":"g","t":807.8,"v":-0.139},{"s":"g","t":848.4,"v":-0.213},{"s":"g","t":889,"v":-0.25},{"s":"g","t":929.6,"v":-0.204},{"s":"g","t":970.2,"v":-0.083},{"s":"g","t":1010.8,"v":-0.009},{"s":"g","t":1051.4,"v":-0.004},{"s":"g","t":1105.5,"v":-0.037},{"s":"g","t":1173.2,"v":-0.056},{"s":"g","t":1227.3,"v":-0.074},{"s":"g","t":1294.9,"v":-0.093},{"s":"g","t":1362.6,"v":-0.046},{"s":"g","t":1430.3,"v":0},{"s":"g","t":1498,"v":0.065},{"s":"g","t":1552.1,"v":0.111},{"s":"g","t":1592.7,"v":0.13},{"s":"g","t":1646.8,"v":0.056},{"s":"g","t":1701,"v":-0.13},{"s":"g","t":1755.1,"v":-0.237},{"s":"g","t":1795.7,"v":-0.204},{"s":"g","t":1836.3,"v":-0.093},{"s":"g","t":1876.9,"v":0.019},{"s":"g","t":1931,"v":0.083},{"s":"g","t":1971.6,"v":0.083},{"s":"g","t":1998.7,"v":0.037},{"s":"g","t":2032.5,"v":-0.037},{"s":"g","t":2086.7,"v":-0.185},{"s":"g","t":2140.8,"v":-0.259},{"s":"g","t":2194.9,"v":-0.222},{"s":"g","t":2249,"v":-0.148},{"s":"g","t":2316.7,"v":-0.102},{"s":"g","t":2384.4,"v":0.028},{"s":"g","t":2438.5,"v":-0.037},{"s":"g","t":2479.1,"v":-0.111},{"s":"g","t":2519.7,"v":-0.139},{"s":"g","t":2573.9,"v":-0.065},{"s":"g","t":2628,"v":-0.009},{"s":"g","t":2695.7,"v":-0.028},{"s":"g","t":2749.8,"v":0.046},{"s":"g","t":2817.4,"v":0.115},{"s":"g","t":2871.6,"v":0.083},{"s":"g","t":2925.7,"v":-0.019},{"s":"g","t":2979.8,"v":-0.074},{"s":"g","t":3034,"v":-0.083},{"s":"g","t":3088.1,"v":-0.056},{"s":"g","t":3142.2,"v":0.056},{"s":"g","t":3196.4,"v":0.204},{"s":"g","t":3243.7,"v":0.25},{"s":"g","t":3291.1,"v":0.204},{"s":"g","t":3331.7,"v":0.074},{"s":"g","t":3372.3,"v":-0.046},{"s":"g","t":3412.9,"v":-0.102},{"s":"g","t":3453.5,"v":-0.111},{"s":"g","t":3507.6,"v":-0.056},{"s":"g","t":3568.5,"v":0.037},{"s":"g","t":3615.9,"v":0.009},{"s":"g","t":3670,"v":-0.056},{"s":"g","t":3737.7,"v":0},{"s":"g","t":3791.8,"v":0.009},{"s":"g","t":3845.9,"v":-0.028},{"s":"g","t":3886.5,"v":-0.041},{"s":"g","t":3940.7,"v":0.028},{"s":"g","t":4000,"v":0.12},
{"s":"k","t":2.6,"v":-0.806},{"s":"k","t":49.9,"v":-0.778},{"s":"k","t":117.6,"v":-0.676},{"s":"k","t":198.8,"v":-0.62},{"s":"k","t":280,"v":-0.667},{"s":"k","t":347.7,"v":-0.796},{"s":"k","t":415.3,"v":-0.889},{"s":"k","t":469.5,"v":-0.861},{"s":"k","t":537.1,"v":-0.741},{"s":"k","t":604.8,"v":-0.667},{"s":"k","t":672.4,"v":-0.694},{"s":"k","t":740.1,"v":-0.796},{"s":"k","t":794.3,"v":-0.855},{"s":"k","t":861.9,"v":-0.815},{"s":"k","t":929.6,"v":-0.713},{"s":"k","t":1004,"v":-0.626},{"s":"k","t":1078.5,"v":-0.648},{"s":"k","t":1146.1,"v":-0.741},{"s":"k","t":1213.8,"v":-0.793},{"s":"k","t":1281.4,"v":-0.787},{"s":"k","t":1349.1,"v":-0.722},{"s":"k","t":1416.8,"v":-0.67},{"s":"k","t":1484.4,"v":-0.704},{"s":"k","t":1552.1,"v":-0.778},{"s":"k","t":1626.5,"v":-0.811},{"s":"k","t":1701,"v":-0.75},{"s":"k","t":1755.1,"v":-0.676},{"s":"k","t":1816,"v":-0.639},{"s":"k","t":1890.4,"v":-0.694},{"s":"k","t":1958.1,"v":-0.796},{"s":"k","t":2025.8,"v":-0.867},{"s":"k","t":2086.7,"v":-0.796},{"s":"k","t":2154.3,"v":-0.667},{"s":"k","t":2228.8,"v":-0.611},{"s":"k","t":2303.2,"v":-0.648},{"s":"k","t":2370.9,"v":-0.778},{"s":"k","t":2438.5,"v":-0.907},{"s":"k","t":2506.2,"v":-0.87},{"s":"k","t":2573.9,"v":-0.741},{"s":"k","t":2634.8,"v":-0.648},{"s":"k","t":2695.7,"v":-0.685},{"s":"k","t":2763.3,"v":-0.778},{"s":"k","t":2831,"v":-0.922},{"s":"k","t":2898.6,"v":-0.87},{"s":"k","t":2966.3,"v":-0.704},{"s":"k","t":3047.5,"v":-0.598},{"s":"k","t":3115.2,"v":-0.63},{"s":"k","t":3182.8,"v":-0.75},{"s":"k","t":3250.5,"v":-0.848},{"s":"k","t":3318.2,"v":-0.815},{"s":"k","t":3385.8,"v":-0.722},{"s":"k","t":3446.7,"v":-0.694},{"s":"k","t":3507.6,"v":-0.722},{"s":"k","t":3575.3,"v":-0.787},{"s":"k","t":3636.2,"v":-0.833},{"s":"k","t":3703.8,"v":-0.778},{"s":"k","t":3771.5,"v":-0.694},{"s":"k","t":3845.9,"v":-0.639},{"s":"k","t":3913.6,"v":-0.667},{"s":"k","t":3981.3,"v":-0.778},{"s":"k","t":4000,"v":-0.815},
{"s":"y","t":2.6,"v":-0.824},{"s":"y","t":43.2,"v":-0.861},{"s":"y","t":117.6,"v":-0.556},{"s":"y","t":158.2,"v":-0.713},{"s":"y","t":219.1,"v":-0.5},{"s":"y","t":266.5,"v":-0.787},{"s":"y","t":313.8,"v":-0.639},{"s":"y","t":374.7,"v":-0.963},{"s":"y","t":408.6,"v":-0.833},{"s":"y","t":435.6,"v":-0.935},{"s":"y","t":496.5,"v":-0.648},{"s":"y","t":530.4,"v":-0.796},{"s":"y","t":584.5,"v":-0.556},{"s":"y","t":631.9,"v":-0.833},{"s":"y","t":692.8,"v":-0.602},{"s":"y","t":746.9,"v":-0.889},{"s":"y","t":780.9,"v":-0.796},{"s":"y","t":814.6,"v":-0.88},{"s":"y","t":868.7,"v":-0.602},{"s":"y","t":909.3,"v":-0.824},{"s":"y","t":963.4,"v":-0.417},{"s":"y","t":1017.6,"v":-0.843},{"s":"y","t":1071.7,"v":-0.444},{"s":"y","t":1128.5,"v":-1.0},{"s":"y","t":1166.4,"v":-0.63},{"s":"y","t":1207,"v":-0.889},{"s":"y","t":1261.1,"v":-0.63},{"s":"y","t":1308.5,"v":-0.898},{"s":"y","t":1362.6,"v":-0.444},{"s":"y","t":1410,"v":-0.944},{"s":"y","t":1464.1,"v":-0.463},{"s":"y","t":1522.3,"v":-0.963},{"s":"y","t":1565.6,"v":-0.694},{"s":"y","t":1606.2,"v":-0.75},{"s":"y","t":1633.3,"v":-0.694},{"s":"y","t":1684.7,"v":-1.0},{"s":"y","t":1741.6,"v":-0.463},{"s":"y","t":1788.9,"v":-0.889},{"s":"y","t":1843,"v":-0.435},{"s":"y","t":1897.2,"v":-0.87},{"s":"y","t":1944.5,"v":-0.63},{"s":"y","t":1985.1,"v":-0.898},{"s":"y","t":2029.8,"v":-0.759},{"s":"y","t":2066.4,"v":-0.991},{"s":"y","t":2127.3,"v":-0.546},{"s":"y","t":2174.6,"v":-0.778},{"s":"y","t":2235.5,"v":-0.463},{"s":"y","t":2282.9,"v":-0.778},{"s":"y","t":2337,"v":-0.611},{"s":"y","t":2391.2,"v":-0.963},{"s":"y","t":2445.3,"v":-0.833},{"s":"y","t":2470,"v":-0.87},{"s":"y","t":2506.2,"v":-0.759},{"s":"y","t":2546.8,"v":-0.87},{"s":"y","t":2600.9,"v":-0.62},{"s":"y","t":2641.5,"v":-0.694},{"s":"y","t":2668.6,"v":-0.63},{"s":"y","t":2709.2,"v":-0.815},{"s":"y","t":2776.8,"v":-0.778},{"s":"y","t":2824.2,"v":-0.991},{"s":"y","t":2871.6,"v":-0.852},{"s":"y","t":2905.4,"v":-0.889},{"s":"y","t":2952.8,"v":-0.593},{"s":"y","t":2993.4,"v":-0.722},{"s":"y","t":3047.5,"v":-0.454},{"s":"y","t":3101.6,"v":-0.778},{"s":"y","t":3155.8,"v":-0.546},{"s":"y","t":3216.7,"v":-0.991},{"s":"y","t":3257.3,"v":-0.759},{"s":"y","t":3291.1,"v":-0.87},{"s":"y","t":3345.2,"v":-0.648},{"s":"y","t":3385.8,"v":-0.944},{"s":"y","t":3433.2,"v":-0.537},{"s":"y","t":3480.6,"v":-0.843},{"s":"y","t":3534.7,"v":-0.602},{"s":"y","t":3582.1,"v":-0.889},{"s":"y","t":3636.2,"v":-0.759},{"s":"y","t":3676.8,"v":-0.889},{"s":"y","t":3737.7,"v":-0.565},{"s":"y","t":3785.1,"v":-0.898},{"s":"y","t":3839.2,"v":-0.444},{"s":"y","t":3886.5,"v":-0.852},{"s":"y","t":3940.7,"v":-0.528},{"s":"y","t":4000,"v":-0.981}
],
"heads":[
{"t":300.3,"v":-0.241,"t0":201.5,"v0":-0.522},{"t":201.5,"v":-0.522,"t0":300.3,"v0":-0.241},
{"t":916,"v":-0.311,"t0":1013.5,"v0":-0.556},{"t":1013.5,"v":-0.556,"t0":916,"v0":-0.311},
{"t":1362.7,"v":-0.17,"t0":1396.5,"v0":-0.459},{"t":1396.5,"v":-0.459,"t0":1362.7,"v0":-0.17},
{"t":1791.7,"v":-0.306,"t0":1791.7,"v0":-0.593},{"t":1791.7,"v":-0.593,"t0":1791.7,"v0":-0.306},
{"t":2181.4,"v":-0.241,"t0":2224.8,"v0":-0.546},{"t":2224.8,"v":-0.546,"t0":2181.4,"v0":-0.241},
{"t":2628,"v":-0.12,"t0":2628,"v0":-0.611},{"t":2628,"v":-0.611,"t0":2628,"v0":-0.12},
{"t":3031.2,"v":-0.231,"t0":3031.2,"v0":-0.528},{"t":3031.2,"v":-0.528,"t0":3031.2,"v0":-0.231},
{"t":3422.4,"v":-0.259,"t0":3422.4,"v0":-0.546},{"t":3422.4,"v":-0.546,"t0":3422.4,"v0":-0.259}
],
"pm":[{"t":553.4,"v":-0.065},{"t":584.5,"v":-0.57}],
"ta":[{"t":2756,"v":-1.24},{"t":1248,"v":-1.24}]
},
"encoding":{"x":{"field":"t","type":"quantitative","scale":{"domain":[0,4000],"nice":false,"zero":false},
"axis":{"values":[0,500,1000,1500,2000,2500,3000,3500,4000],"format":"d","labelExpr":"datum.value % 1000 === 0 ? datum.label : ''","labelFlush":false,"labelOverlap":false,"labelPadding":13,"grid":false,"title":"Time (kyrBP)","titleFontSize":18,"titleY":62,"titleBaseline":"alphabetic"}}},
"layer":[
{"data":{"name":"co2"},"transform":[{"filter":"datum.s === 'pk'"}],"mark":{"type":"line","color":"#d9aeae","strokeWidth":3},
"encoding":{"y":{"field":"v","type":"quantitative","scale":{"domain":[-300,400],"nice":false,"zero":false},"axis":{"orient":"left","values":[200,300,400],"format":"d","grid":true,"labelPadding":15,"title":"pCO₂ (ppm)","titleFontSize":21,"titleAngle":270,"titleAlign":"center","titleBaseline":"alphabetic","titleX":-64,"titleY":97}}}},
{"data":{"name":"co2"},"transform":[{"filter":"datum.s === 'bg'"}],"mark":{"type":"line","color":"#b5c3df","strokeWidth":3},
"encoding":{"y":{"field":"v","type":"quantitative","scale":{"domain":[-300,400],"nice":false,"zero":false},"axis":null}}},
{"data":{"name":"co2"},"transform":[{"filter":"datum.s === 'cy'"}],"mark":{"type":"line","color":"#9dd4e3","strokeWidth":3},
"encoding":{"y":{"field":"v","type":"quantitative","scale":{"domain":[-300,400],"nice":false,"zero":false},"axis":null}}},
{"data":{"name":"co2"},"transform":[{"filter":"datum.s === 'or'"}],"mark":{"type":"line","color":"#fbc791","strokeWidth":3},
"encoding":{"y":{"field":"v","type":"quantitative","scale":{"domain":[-300,400],"nice":false,"zero":false},"axis":{"orient":"right","values":[200,300,400],"format":"d","labelPadding":9,"title":"pCO₂ (ppm)","titleFontSize":21,"titleAngle":270,"titleAlign":"center","titleBaseline":"alphabetic","titleX":80,"titleY":90}}}},
{"data":{"name":"co2"},"transform":[{"filter":"datum.s === 'pu'"}],"mark":{"type":"line","color":"#8b6daf","strokeWidth":3.5},
"encoding":{"y":{"field":"v","type":"quantitative","scale":{"domain":[-300,400],"nice":false,"zero":false},"axis":null}}},
{"data":{"name":"up"},"transform":[{"filter":"datum.s === 'b'"}],"mark":{"type":"line","color":"#6cb5fd","strokeWidth":3,"interpolate":"monotone"},
"encoding":{"y":{"field":"v","type":"quantitative","scale":{"domain":[-2,1.5],"nice":false,"zero":false},"axis":{"orient":"left","values":[0,-0.5],"labelExpr":"datum.value === 0 ? '0.0' : '-0.5'","grid":true,"labelPadding":5,"title":"δ13C (‰)","titleAngle":270,"titleAlign":"center","titleBaseline":"alphabetic","titleX":-64,"titleY":313}}}},
{"data":{"name":"up"},"transform":[{"filter":"datum.s === 'r'"}],"mark":{"type":"line","color":"#e24545","strokeWidth":3,"interpolate":"monotone"},
"encoding":{"y":{"field":"v","type":"quantitative","scale":{"domain":[-2,1.5],"nice":false,"zero":false},"axis":{"orient":"right","values":[0,-0.5],"labelExpr":"datum.value === 0 ? '0.0' : '-0.5'","labelPadding":9,"title":"δ13C (‰)","titleAngle":270,"titleAlign":"center","titleBaseline":"alphabetic","titleX":80,"titleY":312}}}},
{"data":{"name":"up"},"transform":[{"filter":"datum.s === 'g'"}],"mark":{"type":"line","color":"#1dbb1d","strokeWidth":3,"interpolate":"monotone"},
"encoding":{"y":{"field":"v","type":"quantitative","scale":{"domain":[-2,1.5],"nice":false,"zero":false},"axis":null}}},
{"data":{"name":"low"},"transform":[{"filter":"datum.s === 'b'"}],"mark":{"type":"line","color":"#6cb5fd","strokeWidth":3,"interpolate":"monotone"},
"encoding":{"y":{"field":"v","type":"quantitative","scale":{"domain":[-1,2.5],"nice":false,"zero":false},"axis":{"orient":"left","values":[0,-0.5,-1],"labelExpr":"datum.value === 0 ? '0.0' : (datum.value === -0.5 ? '-0.5' : '')","grid":true,"labelPadding":5,"title":"δ13C (‰)","titleAngle":270,"titleAlign":"center","titleBaseline":"alphabetic","titleX":-64,"titleY":496}}}},
{"data":{"name":"low"},"transform":[{"filter":"datum.s === 'r'"}],"mark":{"type":"line","color":"#e24545","strokeWidth":3,"interpolate":"monotone"},
"encoding":{"y":{"field":"v","type":"quantitative","scale":{"domain":[-1,2.5],"nice":false,"zero":false},"axis":null}}},
{"data":{"name":"low"},"transform":[{"filter":"datum.s === 'g'"}],"mark":{"type":"line","color":"#1dbb1d","strokeWidth":3,"interpolate":"monotone"},
"encoding":{"y":{"field":"v","type":"quantitative","scale":{"domain":[-1,2.5],"nice":false,"zero":false},"axis":null}}},
{"data":{"name":"low"},"transform":[{"filter":"datum.s === 'y'"}],"mark":{"type":"line","color":"#a6a6a6","strokeWidth":3,"interpolate":"monotone"},
"encoding":{"y":{"field":"v","type":"quantitative","scale":{"domain":[-1,2.5],"nice":false,"zero":false},"axis":{"orient":"right","values":[0,-0.5,-1],"labelExpr":"datum.value === 0 ? '0.0' : (datum.value === -0.5 ? '-0.5' : '')","labelPadding":9,"title":"δ13C (‰)","titleAngle":270,"titleAlign":"center","titleBaseline":"alphabetic","titleX":80,"titleY":500}}}},
{"data":{"name":"low"},"transform":[{"filter":"datum.s === 'k'"}],"mark":{"type":"line","color":"#000000","strokeWidth":4.5,"interpolate":"monotone"},
"encoding":{"y":{"field":"v","type":"quantitative","scale":{"domain":[-1,2.5],"nice":false,"zero":false},"axis":null}}},
{"data":{"name":"heads"},"mark":{"type":"rule","color":"#ff2c0c","strokeWidth":2},
"encoding":{"x2":{"field":"t0"},"y":{"field":"v","type":"quantitative","scale":{"domain":[-1,2.5],"nice":false,"zero":false},"axis":null},"y2":{"field":"v0"}}},
{"data":{"name":"heads"},"transform":[{"calculate":"atan2((datum.t - datum.t0) * 0.2465, (datum.v - datum.v0) * 180.57) * 180 / PI","as":"a"}],
"mark":{"type":"point","shape":"M0,0L-1,2.4L1,2.4Z","filled":true,"color":"#ff2c0c","opacity":1,"size":100,"strokeWidth":0},
"encoding":{"y":{"field":"v","type":"quantitative","scale":{"domain":[-1,2.5],"nice":false,"zero":false},"axis":null},"angle":{"field":"a","type":"quantitative","scale":null}}},
{"data":{"name":"pm"},"mark":{"type":"line","color":"#7c2180","strokeWidth":2},
"encoding":{"y":{"field":"v","type":"quantitative","scale":{"domain":[-1,2.5],"nice":false,"zero":false},"axis":null}}},
{"data":{"name":"pm"},"mark":{"type":"point","shape":"diamond","filled":true,"color":"#7c2180","opacity":1,"size":90},
"encoding":{"y":{"field":"v","type":"quantitative","scale":{"domain":[-1,2.5],"nice":false,"zero":false},"axis":null}}},
{"data":{"name":"ta"},"mark":{"type":"line","color":"#6c9fd3","strokeWidth":4.5},
"encoding":{"y":{"field":"v","type":"quantitative","scale":{"domain":[-1,2.5],"nice":false,"zero":false},"axis":null}}},
{"data":{"name":"ta"},"transform":[{"filter":"datum.t < 2000"}],"mark":{"type":"point","shape":"M2,-1L0,0L2,1","filled":false,"color":"#6c9fd3","opacity":1,"size":324,"strokeWidth":4.5,"strokeCap":"round","strokeJoin":"round"},
"encoding":{"y":{"field":"v","type":"quantitative","scale":{"domain":[-1,2.5],"nice":false,"zero":false},"axis":null}}}
],
"resolve":{"scale":{"y":"independent"},"axis":{"y":"independent"}}
}
